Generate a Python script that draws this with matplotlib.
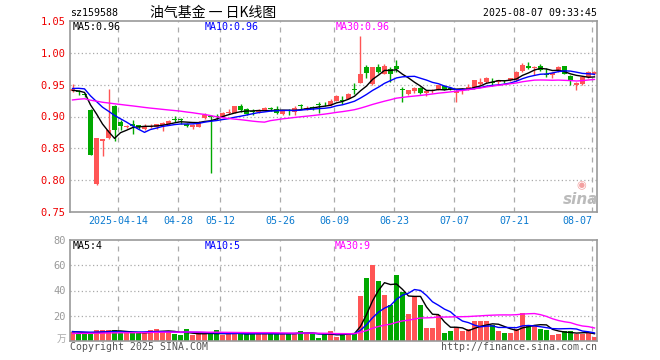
import numpy as np
import pandas as pd
import matplotlib
matplotlib.use('Agg')
import matplotlib.pyplot as plt


######################
RED = '#ff5555'
GREEN = '#00a800'
GRID = '#aaaaaa'
MONO = 'DejaVu Sans Mono'
##########################

# daily bars 2025-04-01 .. 2025-08-07 (88 trading days)
opens = [0.940, 0.940, 0.935, 0.910, 0.794, 0.862, 0.867, 0.917, 0.892, 0.884,
         0.888, 0.886, 0.880, 0.884, 0.884, 0.886, 0.888, 0.895, 0.895, 0.888,
         0.884, 0.884, 0.897, 0.901, 0.901, 0.900, 0.905, 0.906, 0.917, 0.911,
         0.908, 0.907, 0.909, 0.913, 0.912, 0.904, 0.910, 0.907, 0.918, 0.910,
         0.915, 0.919, 0.920, 0.918, 0.925, 0.926, 0.928, 0.943, 0.953, 0.978,
         0.951, 0.978, 0.967, 0.975, 0.980, 0.943, 0.935, 0.940, 0.944, 0.937,
         0.940, 0.942, 0.948, 0.944, 0.937, 0.941, 0.943, 0.944, 0.951, 0.954,
         0.954, 0.954, 0.957, 0.957, 0.957, 0.972, 0.980, 0.976, 0.980, 0.966,
         0.965, 0.972, 0.979, 0.964, 0.950, 0.951, 0.962, 0.967]
highs = [0.951, 0.942, 0.937, 0.911, 0.866, 0.865, 0.943, 0.918, 0.894, 0.886,
         0.894, 0.887, 0.888, 0.888, 0.889, 0.892, 0.895, 0.901, 0.897, 0.890,
         0.889, 0.893, 0.905, 0.903, 0.904, 0.907, 0.911, 0.917, 0.919, 0.913,
         0.911, 0.911, 0.915, 0.915, 0.916, 0.910, 0.912, 0.916, 0.919, 0.916,
         0.917, 0.922, 0.922, 0.927, 0.934, 0.932, 0.937, 0.953, 1.026, 0.981,
         0.978, 0.983, 0.983, 0.977, 0.988, 0.947, 0.942, 0.946, 0.946, 0.941,
         0.943, 0.950, 0.950, 0.946, 0.941, 0.944, 0.951, 0.958, 0.960, 0.962,
         0.960, 0.958, 0.958, 0.961, 0.971, 0.984, 0.985, 0.979, 0.982, 0.976,
         0.970, 0.980, 0.980, 0.965, 0.954, 0.964, 0.971, 0.972]
lows = [0.938, 0.934, 0.930, 0.839, 0.793, 0.838, 0.865, 0.862, 0.879, 0.882,
        0.872, 0.881, 0.879, 0.882, 0.880, 0.877, 0.887, 0.891, 0.889, 0.884,
        0.881, 0.883, 0.896, 0.811, 0.895, 0.899, 0.904, 0.905, 0.907, 0.902,
        0.903, 0.906, 0.908, 0.908, 0.904, 0.903, 0.903, 0.903, 0.912, 0.910,
        0.910, 0.906, 0.916, 0.917, 0.924, 0.919, 0.927, 0.936, 0.952, 0.961,
        0.950, 0.968, 0.966, 0.954, 0.970, 0.923, 0.934, 0.937, 0.935, 0.932,
        0.937, 0.941, 0.941, 0.941, 0.923, 0.936, 0.942, 0.943, 0.950, 0.952,
        0.948, 0.949, 0.953, 0.956, 0.956, 0.970, 0.974, 0.965, 0.972, 0.962,
        0.960, 0.970, 0.966, 0.949, 0.942, 0.949, 0.960, 0.965]
closes = [0.943, 0.938, 0.933, 0.840, 0.866, 0.864, 0.879, 0.879, 0.885, 0.885,
          0.885, 0.884, 0.884, 0.885, 0.888, 0.890, 0.893, 0.894, 0.894, 0.885,
          0.887, 0.892, 0.903, 0.899, 0.899, 0.906, 0.907, 0.916, 0.910, 0.904,
          0.907, 0.910, 0.914, 0.912, 0.905, 0.909, 0.909, 0.913, 0.917, 0.913,
          0.914, 0.918, 0.919, 0.924, 0.932, 0.925, 0.936, 0.942, 0.967, 0.969,
          0.977, 0.970, 0.979, 0.967, 0.974, 0.942, 0.941, 0.945, 0.937, 0.940,
          0.941, 0.949, 0.942, 0.943, 0.940, 0.943, 0.946, 0.957, 0.954, 0.961,
          0.953, 0.957, 0.955, 0.960, 0.970, 0.981, 0.976, 0.978, 0.973, 0.965,
          0.969, 0.978, 0.967, 0.956, 0.953, 0.962, 0.970, 0.970]
# volume, 万
volumes = [7.0, 5.8, 5.8, 6.3, 8.4, 8.4, 8.4, 8.4, 6.3, 6.3,
           6.3, 6.3, 7.0, 8.4, 9.2, 7.6, 7.6, 5.3, 4.5, 9.2,
           4.5, 5.3, 5.3, 5.8, 8.4, 4.5, 5.8, 5.8, 5.8, 5.8,
           5.8, 5.8, 5.8, 5.8, 5.8, 5.8, 5.8, 6.3, 7.6, 6.3,
           5.8, 2.6, 5.3, 7.6, 3.1, 6.5, 5.8, 6.5, 36.0, 49.7,
           60.5, 47.9, 36.8, 28.7, 51.9, 39.2, 21.6, 35.3, 28.7, 10.2,
           10.2, 20.2, 6.3, 7.6, 10.2, 7.6, 9.2, 15.5, 15.5, 15.5,
           12.3, 7.6, 6.5, 6.5, 9.2, 22.1, 12.3, 11.8, 9.2, 8.4,
           4.5, 5.8, 7.6, 7.6, 5.8, 5.8, 6.5, 3.1]

# days before the window, only used so the moving averages start where the picture does
hist_close = [0.905, 0.908, 0.910, 0.912, 0.915, 0.913, 0.916, 0.918, 0.920, 0.917,
              0.919, 0.921, 0.918, 0.916, 0.920, 0.922, 0.921, 0.923, 0.925, 0.921,
              0.935, 0.942, 0.950, 0.955, 0.953, 0.942, 0.945, 0.938, 0.937]
hist_vol = [5.0, 5.5, 5.2, 5.8, 5.1, 5.4, 5.6, 5.0, 5.3, 5.5,
            5.2, 5.6, 5.4, 5.1, 5.3, 5.5, 5.4, 5.2, 5.6, 5.3,
            6.8, 7.2, 7.0, 7.5, 7.0, 7.8, 7.4, 7.6, 7.7]

tick_idx = [8, 18, 25, 35, 44, 54, 64, 74, 87]
tick_labels = ['2025-04-14', '04-28', '05-12', '05-26', '06-09',
               '06-23', '07-07', '07-21', '08-07']
price_ticks = [0.75, 0.80, 0.85, 0.90, 0.95, 1.00, 1.05]
vol_ticks = [20, 40, 60, 80]
price_ma_text = ['MA5:0.96', 'MA10:0.96', 'MA30:0.96']
vol_ma_text = ['MA5:4', 'MA10:5', 'MA30:9']

W, H = 660, 360


def rect(l, t, r, b):
    return [l / W, 1 - b / H, (r - l) / W, (b - t) / H]


def txt(x, y, s, ha='left', **kw):
    kw.setdefault('family', MONO)
    kw.setdefault('fontsize', 7)
    fig.text(x / W, 1 - y / H, s, ha=ha, va='center', **kw)


def ma(hist, vals, k):
    s = pd.Series(list(hist) + list(vals))
    return s.rolling(k).mean().values[len(hist):]


def style(ax, ylim, hgrid):
    n = len(closes)
    ax.set_xlim(-0.42, n - 0.58)
    ax.set_ylim(*ylim)
    for s in ax.spines.values():
        s.set_color('#999999')
        s.set_linewidth(1.2)
    for i in tick_idx:
        ax.axvline(i - 0.42, color=GRID, ls=(0, (4, 4)), lw=0.9, zorder=0)
    for v in hgrid:
        ax.axhline(v, color=GRID, ls=(0, (1, 2)), lw=0.9, zorder=0)
    ax.set_xticks([])


fig = plt.figure(figsize=(6.6, 3.6), dpi=100)
axp = fig.add_axes(rect(70, 21, 597, 212))
axv = fig.add_axes(rect(70, 240, 597, 341))

o = np.array(opens)
h = np.array(highs)
l = np.array(lows)
c = np.array(closes)
v = np.array(volumes)
x = np.arange(len(c))
cols = np.where(c >= o, RED, GREEN)

# candles
axp.vlines(x, l, h, colors=cols, lw=1, zorder=2)
axp.bar(x, np.maximum(np.abs(c - o), 0.0014), 0.8, bottom=np.minimum(o, c),
        color=cols, lw=0, zorder=2)
for k, col in [(5, 'black'), (10, 'blue'), (30, 'magenta')]:
    axp.plot(x, ma(hist_close, c, k), color=col, lw=1, zorder=3)
style(axp, (0.75, 1.05), [0.80, 0.85, 0.90, 0.95, 1.00])
axp.set_yticks(price_ticks)
axp.set_yticklabels(['%.2f' % t for t in price_ticks])
axp.tick_params(axis='y', length=0, pad=3, labelcolor='#ee0000', labelsize=7.5)
for t in axp.get_yticklabels():
    t.set_family(MONO)

# volume
axv.bar(x, v, 0.8, color=cols, lw=0, zorder=2)
for k, col in [(5, 'black'), (10, 'blue'), (30, 'magenta')]:
    axv.plot(x, ma(hist_vol, v, k), color=col, lw=1, zorder=3)
style(axv, (0, 80), [20, 40, 60])
axv.set_yticks(vol_ticks)
axv.set_yticklabels([str(t) for t in vol_ticks])
axv.tick_params(axis='y', length=0, pad=3, labelcolor='#999999', labelsize=7.5)
for t in axv.get_yticklabels():
    t.set_family(MONO)

# date labels
for i, s in zip(tick_idx, tick_labels):
    px = 70 + 6 * i
    ha = 'right' if i == tick_idx[-1] else 'center'
    txt(px, 221.5, s, ha=ha, color='#0a7ad0', fontsize=7.2)

# header
txt(70, 13, 'sz159588', fontsize=7.2)
txt(150, 13, '油气基金 一 日K线图', fontsize=10,
    family=['Noto Sans CJK SC', 'DejaVu Sans'])
txt(597, 13, '2025-08-07 09:33:45', ha='right', fontsize=7.1)

ma_cols = ['black', 'blue', 'magenta']
for px, s, col in zip([73, 205, 336], price_ma_text, ma_cols):
    txt(px, 27, s, color=col, fontsize=7.2)
for px, s, col in zip([73, 205, 335], vol_ma_text, ma_cols):
    txt(px, 246, s, color=col, fontsize=7.2)

# footer
txt(66, 339, '万', ha='right', color='#aaaaaa', fontsize=7,
    family=['Noto Sans CJK SC', 'DejaVu Sans'])
txt(70, 347, 'Copyright 2025 SINA.COM', color='#555555', fontsize=7.1)
txt(597, 347, 'http://finance.sina.com.cn', ha='right', color='#555555', fontsize=7.1)

# sina watermark
fig.text(581 / W, 1 - 185 / H, '◉', ha='center', va='center', color='#f3a0a0',
         fontsize=8, family='DejaVu Sans')
fig.text(581 / W, 1 - 200 / H, 'sina', ha='center', va='center', color='#bbbbbb',
         fontsize=11, style='italic', weight='bold', family='DejaVu Sans')

fig.savefig('out.png', dpi=100)
